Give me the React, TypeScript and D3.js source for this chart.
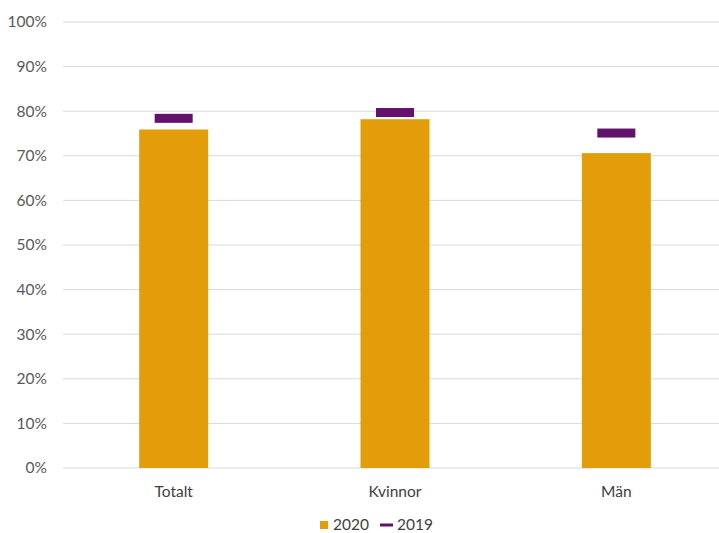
import { useEffect, useRef } from "react";
import * as d3 from "d3";

const categories = ["Totalt", "Kvinnor", "Män"];
const values2020 = [0.759, 0.782, 0.706];
const values2019 = [0.784, 0.797, 0.751];
const yTicks = [0, 0.1, 0.2, 0.3, 0.4, 0.5, 0.6, 0.7, 0.8, 0.9, 1];

const BAR = "#E39D0A";
const MARK = "#63116C";

export default function App() {
  const svgRef = useRef<SVGSVGElement>(null);

  useEffect(() => {
    if (!svgRef.current) return;
    const width = 719;
    const font = "Lato, 'Open Sans', sans-serif";

    d3.select(svgRef.current).selectAll("*").remove();
    const svg = d3.select(svgRef.current);

    const x = d3.scaleBand<string>().domain(categories).range([63, 727]);
    const y = d3.scaleLinear().domain([0, 1]).range([468, 22]);

    // grid
    svg
      .append("g")
      .selectAll("line")
      .data(yTicks)
      .join("line")
      .attr("x1", 63)
      .attr("x2", width)
      .attr("y1", (d) => y(d))
      .attr("y2", (d) => y(d))
      .attr("stroke", "#d9d9d9")
      .attr("stroke-width", 1);

    svg
      .append("g")
      .selectAll("text")
      .data(yTicks)
      .join("text")
      .attr("x", 47)
      .attr("y", (d) => y(d))
      .attr("dy", "0.35em")
      .attr("text-anchor", "end")
      .attr("font-family", font)
      .attr("font-size", 15.5)
      .attr("fill", "#595959")
      .text((d) => d3.format(".0%")(d));

    const barW = 69;
    svg
      .append("g")
      .selectAll("rect")
      .data(categories)
      .join("rect")
      .attr("x", (d) => x(d)! + x.bandwidth() / 2 - barW / 2)
      .attr("width", barW)
      .attr("y", (_, i) => y(values2020[i]))
      .attr("height", (_, i) => y(0) - y(values2020[i]))
      .attr("fill", BAR);

    const markW = 38;
    svg
      .append("g")
      .selectAll("rect")
      .data(categories)
      .join("rect")
      .attr("x", (d) => x(d)! + x.bandwidth() / 2 - markW / 2)
      .attr("width", markW)
      .attr("y", (_, i) => y(values2019[i]) - 4.5)
      .attr("height", 9)
      .attr("fill", MARK);

    svg
      .append("g")
      .selectAll("text")
      .data(categories)
      .join("text")
      .attr("x", (d) => x(d)! + x.bandwidth() / 2)
      .attr("y", 497)
      .attr("text-anchor", "middle")
      .attr("font-family", font)
      .attr("font-size", 15.5)
      .attr("fill", "#404040")
      .text((d) => d);

    // legend
    const lg = svg.append("g").attr("font-family", font).attr("font-size", 15.5).attr("fill", "#404040");
    lg.append("rect").attr("x", 320).attr("y", 521).attr("width", 8).attr("height", 8).attr("fill", BAR);
    lg.append("text").attr("x", 333).attr("y", 530).text("2020");
    lg.append("rect").attr("x", 380).attr("y", 523.5).attr("width", 13).attr("height", 3).attr("fill", MARK);
    lg.append("text").attr("x", 397).attr("y", 530).text("2019");
  }, []);

  return (
    <svg
      ref={svgRef}
      width={719}
      height={533}
      style={{ position: "absolute", left: 0, top: 0, background: "#fff" }}
    />
  );
}
